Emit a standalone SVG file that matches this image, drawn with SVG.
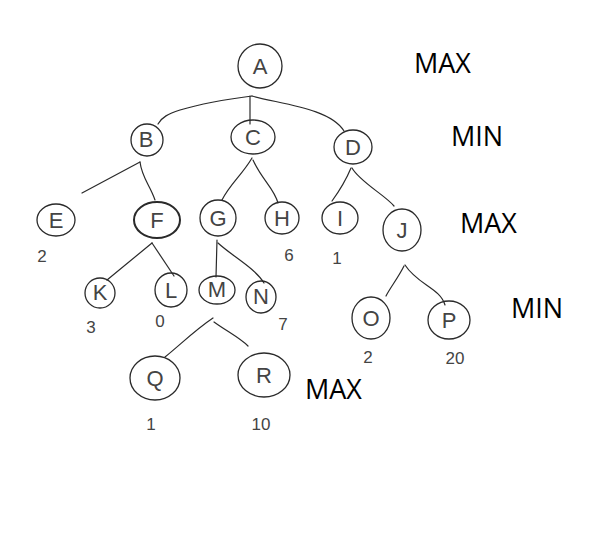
<svg xmlns="http://www.w3.org/2000/svg" width="602" height="545" viewBox="0 0 602 545">
  <style>
    .node { fill: none; stroke: #2a2a2a; stroke-width: 1.3; }
    .bold { stroke-width: 2; }
    .edge { fill: none; stroke: #2a2a2a; stroke-width: 1.2; stroke-linecap: round; }
    .letter { font-family: "Liberation Sans", "DejaVu Sans", sans-serif; font-size: 22px; fill: #444; text-anchor: middle; }
    .val { font-family: "Liberation Sans", "DejaVu Sans", sans-serif; font-size: 17px; fill: #444; text-anchor: middle; }
    .level { font-family: "Open Sans", "Liberation Sans", sans-serif; font-size: 27px; fill: #000; }
  </style>
  <rect width="602" height="545" fill="#fff"/>

  <g id="connectors">
    <!-- A -> B, C, D -->
    <path class="edge" d="M252 96 C220 100 200 104 180 110 C168 114 162 117 158 124"/>
    <path class="edge" d="M250 96 L250 124"/>
    <path class="edge" d="M252 96 C280 104 330 108 344 131"/>
    <!-- B -> E, F -->
    <path class="edge" d="M140 162 L82 193"/>
    <path class="edge" d="M140 162 C142 178 150 185 155 200"/>
    <!-- C -> G, H -->
    <path class="edge" d="M252 158 C242 175 230 184 222 200"/>
    <path class="edge" d="M253 160 C262 180 274 188 278 203"/>
    <!-- D -> I, J -->
    <path class="edge" d="M351 168 C346 180 340 190 332 201"/>
    <path class="edge" d="M352 168 C360 182 385 195 394 206"/>
    <!-- F -> K, L -->
    <path class="edge" d="M152 243 L107 280"/>
    <path class="edge" d="M152 243 L174 276"/>
    <!-- G -> M, N -->
    <path class="edge" d="M217 240 L216 277"/>
    <path class="edge" d="M218 243 C232 256 255 268 264 283"/>
    <!-- M -> Q, R -->
    <path class="edge" d="M213 318 C195 330 180 345 165 357"/>
    <path class="edge" d="M214 322 C228 332 240 338 248 346"/>
    <!-- J -> O, P -->
    <path class="edge" d="M404 266 C398 278 390 288 386 296"/>
    <path class="edge" d="M405 265 C418 285 440 288 445 305"/>
  </g>

  <g id="node-A"><ellipse class="node" cx="260" cy="66" rx="22" ry="22"/><text class="letter" x="260" y="74" font-size="24">A</text></g>
  <g id="node-B"><ellipse class="node" cx="147" cy="140" rx="16" ry="16"/><text class="letter" x="146" y="147" font-size="18">B</text></g>
  <g id="node-C"><ellipse class="node" cx="253" cy="137" rx="22" ry="17"/><text class="letter" x="253" y="145">C</text></g>
  <g id="node-D"><ellipse class="node" cx="353" cy="147" rx="19" ry="17"/><text class="letter" x="353" y="155">D</text></g>
  <g id="node-E"><ellipse class="node" cx="56" cy="220" rx="19" ry="16"/><text class="letter" x="56" y="228">E</text></g>
  <g id="node-F"><ellipse class="node bold" cx="157" cy="220" rx="23" ry="18"/><text class="letter" x="157" y="228">F</text></g>
  <g id="node-G"><ellipse class="node" cx="218" cy="218" rx="18" ry="18"/><text class="letter" x="218" y="226">G</text></g>
  <g id="node-H"><ellipse class="node" cx="282" cy="218" rx="17" ry="16"/><text class="letter" x="282" y="226">H</text></g>
  <g id="node-I"><ellipse class="node" cx="340" cy="218" rx="18" ry="16"/><text class="letter" x="340" y="226">I</text></g>
  <g id="node-J"><ellipse class="node" cx="402" cy="230" rx="19" ry="21"/><text class="letter" x="402" y="238">J</text></g>
  <g id="node-K"><ellipse class="node" cx="100" cy="293" rx="15" ry="15"/><text class="letter" x="100" y="300" font-size="19">K</text></g>
  <g id="node-L"><ellipse class="node" cx="171" cy="290" rx="16" ry="17"/><text class="letter" x="171" y="298">L</text></g>
  <g id="node-M"><ellipse class="node" cx="217" cy="290" rx="18" ry="14"/><text class="letter" x="217" y="297" font-size="19">M</text></g>
  <g id="node-N"><ellipse class="node" cx="261" cy="297" rx="15" ry="16"/><text class="letter" x="261" y="304" font-size="19">N</text></g>
  <g id="node-O"><ellipse class="node" cx="371" cy="318" rx="19" ry="21"/><text class="letter" x="371" y="326">O</text></g>
  <g id="node-P"><ellipse class="node" cx="449" cy="320" rx="21" ry="19"/><text class="letter" x="449" y="328">P</text></g>
  <g id="node-Q"><ellipse class="node" cx="155" cy="378" rx="25" ry="22"/><text class="letter" x="155" y="386" font-size="24">Q</text></g>
  <g id="node-R"><ellipse class="node" cx="264" cy="375" rx="26" ry="22"/><text class="letter" x="264" y="383" font-size="24">R</text></g>

  <g id="values">
    <text class="val" x="42" y="262">2</text>
    <text class="val" x="289" y="261">6</text>
    <text class="val" x="337" y="264">1</text>
    <text class="val" x="91" y="333">3</text>
    <text class="val" x="160" y="327">0</text>
    <text class="val" x="283" y="330">7</text>
    <text class="val" x="368" y="363">2</text>
    <text class="val" x="455" y="364">20</text>
    <text class="val" x="151" y="430">1</text>
    <text class="val" x="261" y="430">10</text>
  </g>

  <g id="levels">
    <text class="level" x="414" y="73">MAX</text>
    <text class="level" x="451" y="146">MIN</text>
    <text class="level" x="460" y="233">MAX</text>
    <text class="level" x="511" y="318">MIN</text>
    <text class="level" x="305" y="399">MAX</text>
  </g>
</svg>
